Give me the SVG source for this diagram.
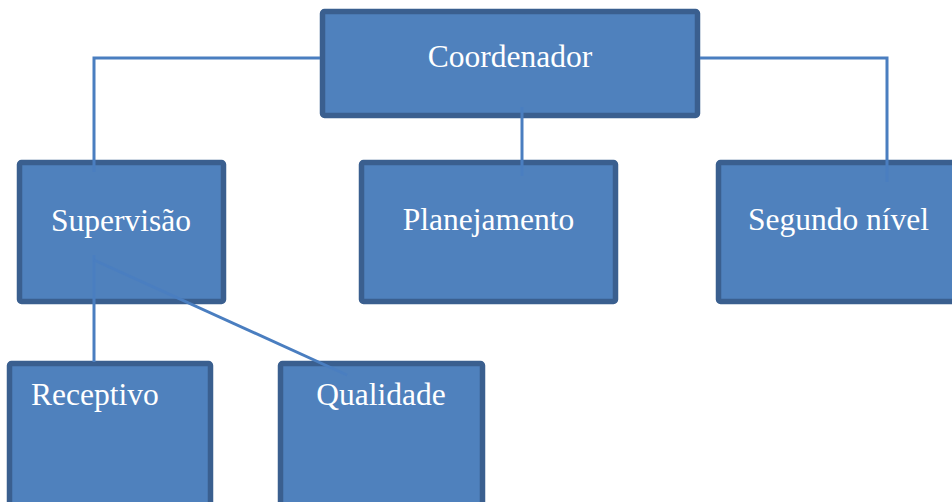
<svg xmlns="http://www.w3.org/2000/svg" width="952" height="502" viewBox="0 0 952 502">
<style>
.box{fill:#4f81bd;stroke:#3a5f8f;stroke-width:5.5}
.lbl{fill:#ffffff;font-family:"Liberation Serif","Times New Roman",serif;font-size:31.5px}
.con{fill:none;stroke:#4a7ec0;stroke-width:3}
</style>
<rect width="952" height="502" fill="#ffffff"/>
<g id="coordenador">
<rect class="box" x="322.5" y="11.5" width="375" height="104" rx="2"/>
<text class="lbl" x="510" y="67" text-anchor="middle">Coordenador</text>
</g>
<g id="supervisao">
<rect class="box" x="19.5" y="162.5" width="204" height="139" rx="2"/>
<text class="lbl" x="121" y="231" text-anchor="middle">Supervisão</text>
</g>
<g id="planejamento">
<rect class="box" x="361.5" y="162.5" width="254" height="139" rx="2"/>
<text class="lbl" x="488.5" y="230" text-anchor="middle">Planejamento</text>
</g>
<g id="segundo">
<rect class="box" x="718.5" y="162.5" width="240" height="139" rx="2"/>
<text class="lbl" x="838.5" y="230" text-anchor="middle">Segundo nível</text>
</g>
<g id="receptivo">
<rect class="box" x="9.5" y="363.5" width="201" height="150" rx="2"/>
<text class="lbl" x="31" y="405">Receptivo</text>
</g>
<g id="qualidade">
<rect class="box" x="280.5" y="363.5" width="202" height="150" rx="2"/>
<text class="lbl" x="381" y="405" text-anchor="middle">Qualidade</text>
</g>
<g id="connectors">
<polyline class="con" points="320,58 94,58 94,172"/>
<polyline class="con" points="700,58 887,58 887,182"/>
<line class="con" x1="522" y1="107" x2="522" y2="176"/>
<line class="con" x1="94" y1="255" x2="94" y2="362"/>
<line class="con" x1="94" y1="260" x2="347" y2="375"/>
</g>
</svg>
